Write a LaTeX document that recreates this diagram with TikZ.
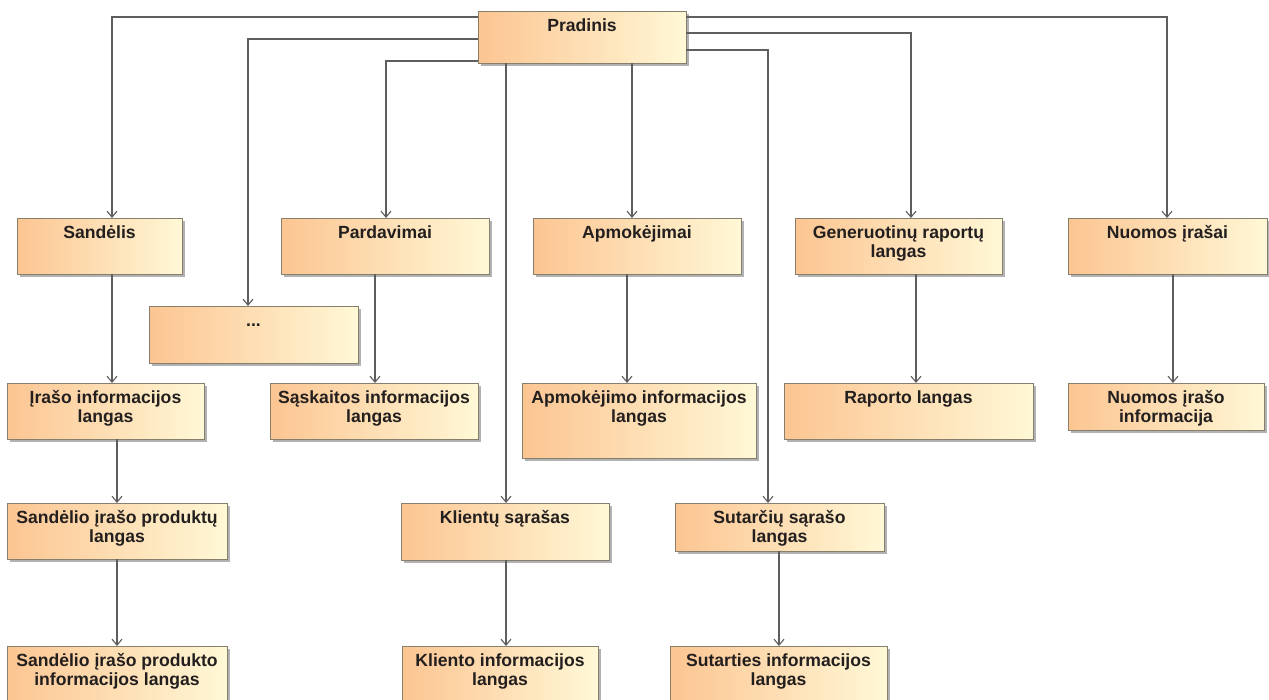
\documentclass[tikz,border=0pt]{standalone}
\usepackage{fontspec}
\setmainfont{Liberation Sans}
\usetikzlibrary{arrows.meta,shadows}

\definecolor{boxleft}{HTML}{FCC592}
\definecolor{boxright}{HTML}{FFF8D6}
\definecolor{boxline}{HTML}{857F6C}
\definecolor{connline}{HTML}{5E5E5E}
\definecolor{textcol}{HTML}{231F1F}

\tikzset{
  ubox/.style={draw=boxline, line width=0.9pt, left color=boxleft, right color=boxright,
    inner sep=0pt, outer sep=0pt,
    drop shadow={shadow xshift=3pt, shadow yshift=-3pt, fill=black!50, opacity=0.6}},
  utext/.style={anchor=north, inner sep=0pt, align=center, text=textcol,
    font=\fontsize{17.6}{18.5}\selectfont\bfseries, execute at begin node=\strut},
  conn/.style={draw=connline, line width=1.1pt,
    -{Straight Barb[length=6pt,width=10pt,line width=1.1pt]}}
}

% box: name, left, top, right, bottom, caption
\newcommand\diabox[6]{%
  \node[ubox, minimum width={#4-#2}, minimum height={#5-#3}] (#1)
    at ({(#2+#4)/2},{(#3+#5)/2}) {};
  \node[utext] (#1-t) at ([yshift=-7.6pt]#1.north) {#6};
}

% vertical connector: source, x offset on its bottom edge, target
\newcommand\vconn[3]{%
  \coordinate (#1-out) at ([xshift=#2]#1.south);
  \draw[conn] (#1-out) -- (#1-out |- #3.north);
}

\begin{document}
\begin{tikzpicture}[x=1pt,y=-1pt]
  \fill[white] (0,0) rectangle (1269,699);
  \useasboundingbox (0,0) rectangle (1269,699);

  % root
  \diabox{p}{478}{11}{686}{63}{Pradinis}

  % first level
  \diabox{s}{17}{218}{182}{274}{Sandėlis}
  \diabox{d}{149}{306}{358}{363}{...}
  \diabox{pa}{281}{218}{489}{274}{Pardavimai}
  \diabox{a}{533}{218}{741}{274}{Apmokėjimai}
  \diabox{g}{795}{218}{1002}{274}{Generuotinų raportų\\langas}
  \diabox{n}{1068}{218}{1267}{274}{Nuomos įrašai}

  % second level
  \diabox{i1}{7}{383}{204}{439}{Įrašo informacijos\\langas}
  \diabox{sq}{270}{383}{478}{439}{Sąskaitos informacijos\\langas}
  \diabox{ai}{522}{383}{756}{458}{Apmokėjimo informacijos\\langas}
  \diabox{r}{784}{383}{1033}{439}{Raporto langas}
  \diabox{ni}{1068}{383}{1264}{430}{Nuomos įrašo\\informacija}

  % lists
  \diabox{sp}{7}{503}{227}{559}{Sandėlio įrašo produktų\\langas}
  \diabox{k}{401}{503}{609}{560}{Klientų sąrašas}
  \diabox{su}{675}{503}{884}{551}{Sutarčių sąrašo\\langas}

  % details
  \diabox{spi}{7}{646}{227}{706}{Sandėlio įrašo produkto\\informacijos langas}
  \diabox{ki}{402}{646}{598}{706}{Kliento informacijos\\langas}
  \diabox{sui}{670}{646}{887}{706}{Sutarties informacijos\\langas}

  % connectors from the root
  \draw[conn] ([yshift=-6pt]p.north west) -| ([xshift=12.5pt]s.north);
  \draw[conn] ([yshift=-28pt]p.north west) -| ([xshift=-5.5pt]d.north);
  \draw[conn] ([yshift=-50pt]p.north west) -| ([xshift=1pt]pa.north);
  \coordinate (p-k) at ([xshift=-76pt]p.south);
  \draw[conn] (p-k) -- (p-k |- k.north);
  \coordinate (p-a) at ([xshift=50pt]p.south);
  \draw[conn] (p-a) -- (p-a |- a.north);
  \draw[conn] ([yshift=-39pt]p.north east) -| ([xshift=-11.5pt]su.north);
  \draw[conn] ([yshift=-22pt]p.north east) -| ([xshift=12.5pt]g.north);
  \draw[conn] ([yshift=-6pt]p.north east) -| ([xshift=-0.5pt]n.north);

  % connectors between windows
  \vconn{s}{12.5pt}{i1}
  \vconn{i1}{11.5pt}{sp}
  \vconn{sp}{0pt}{spi}
  \vconn{pa}{-10pt}{sq}
  \vconn{a}{-10pt}{ai}
  \vconn{g}{17.5pt}{r}
  \vconn{n}{5.5pt}{ni}
  \vconn{k}{1pt}{ki}
  \vconn{su}{-0.5pt}{sui}
\end{tikzpicture}
\end{document}
